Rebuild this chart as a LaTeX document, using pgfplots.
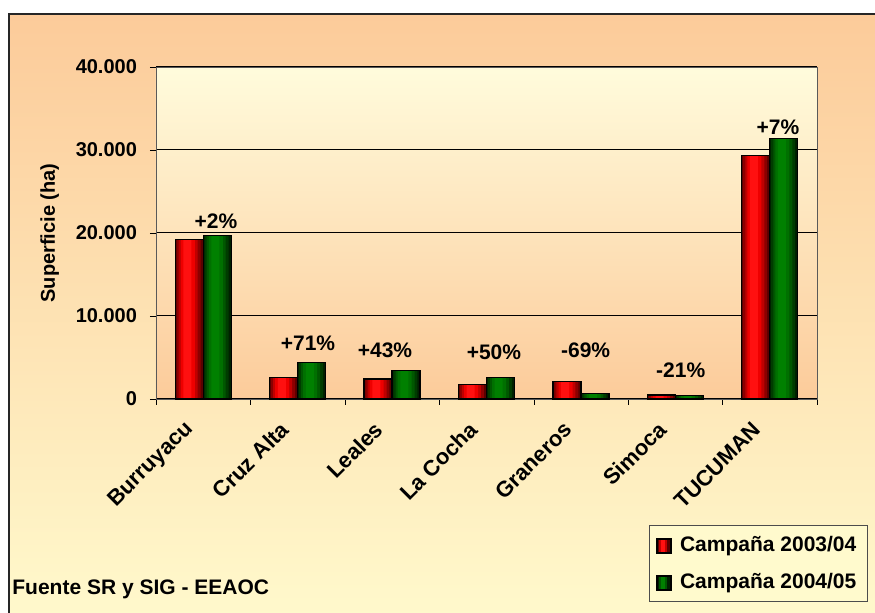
\documentclass[border=0pt]{standalone}
\usepackage{pgfplots}
\usepackage{pgfplotstable}
\pgfplotsset{compat=1.18}
\usepackage{fontspec}
\setmainfont{Liberation Sans}
\definecolor{peach}{HTML}{FCCB9A}
\definecolor{lyel}{HTML}{FFFACD}
\definecolor{r1}{HTML}{5A0000}
\definecolor{r2}{HTML}{8C0000}
\definecolor{r3}{HTML}{C00000}
\definecolor{r4}{HTML}{EE0000}
\definecolor{r5}{HTML}{FF1010}
\definecolor{g1}{HTML}{002000}
\definecolor{g2}{HTML}{003C00}
\definecolor{g3}{HTML}{005800}
\definecolor{g4}{HTML}{007000}
\definecolor{g5}{HTML}{008000}
\pgfplotstableread{
x r g
0 19200 19650
1 2550 4400
2 2400 3450
3 1780 2620
4 2100 680
5 480 420
6 29300 31350
}\data
\begin{document}
\begin{tikzpicture}
\begin{scope}[x=0.5pt,y=-0.5pt]
\useasboundingbox (0,0) rectangle (875,613);
\begin{scope}
\clip (0,0) rectangle (875,613);
\shade[top color=peach, bottom color=lyel, draw=black!85, line width=0.6pt] (9,14) rectangle (890,630);
\end{scope}
\end{scope}
\begin{axis}[
  at={(78pt,-199.5pt)}, anchor=south west,
  scale only axis, width=330.5pt, height=166pt,
  xmin=-0.5, xmax=6.5, ymin=0, ymax=40000,
  axis background/.style={top color=lyel!70!white, bottom color=peach},
  axis line style={gray!70!black},
  xtick={0,...,6},
  xticklabels={Burruyacu,Cruz Alta,Leales,La Cocha,Graneros,Simoca,TUCUMAN},
  major x tick style={draw=none},
  minor xtick={-0.5,0.5,...,6.5},
  minor tick length=3pt,
  minor x tick style={black},
  xtick pos=bottom, ytick pos=left,
  tick align=outside,
  major tick length=3pt,
  ytick={0,10000,20000,30000,40000},
  ymajorgrids, major grid style={black, line width=0.5pt},
  y tick style={black},
  scaled y ticks=false,
  /pgf/number format/.cd, 1000 sep={.}, assume math mode=true,
  /pgfplots/.cd,
  tick label style={font=\bfseries\fontsize{10}{12}\selectfont},
  yticklabel style={xshift=-3pt},
  xticklabel style={font=\bfseries\fontsize{11}{13}\selectfont, xshift=-4pt, yshift=-8pt, rotate=45, anchor=east},
  ylabel={Superficie (ha)},
  ylabel style={font=\bfseries\fontsize{10}{12}\selectfont, yshift=1.5pt},
  clip=false,
]
% red series (2003/04): layered fills for the cylinder look
\addplot[ybar, bar width=14pt, bar shift=-7pt, fill=r1, draw=none] table[x=x,y=r]{\data};
\addplot[ybar, bar width=12pt, bar shift=-7.3pt, fill=r2, draw=none] table[x=x,y=r]{\data};
\addplot[ybar, bar width=9.5pt, bar shift=-7.5pt, fill=r3, draw=none] table[x=x,y=r]{\data};
\addplot[ybar, bar width=7pt, bar shift=-7.7pt, fill=r4, draw=none] table[x=x,y=r]{\data};
\addplot[ybar, bar width=4pt, bar shift=-7.9pt, fill=r5, draw=none] table[x=x,y=r]{\data};
\addplot[ybar, bar width=14pt, bar shift=-7pt, fill=none, draw=black, line width=0.6pt] table[x=x,y=r]{\data};
% green series (2004/05)
\addplot[ybar, bar width=14pt, bar shift=7pt, fill=g1, draw=none] table[x=x,y=g]{\data};
\addplot[ybar, bar width=12pt, bar shift=6.7pt, fill=g2, draw=none] table[x=x,y=g]{\data};
\addplot[ybar, bar width=9.5pt, bar shift=6.5pt, fill=g3, draw=none] table[x=x,y=g]{\data};
\addplot[ybar, bar width=7pt, bar shift=6.3pt, fill=g4, draw=none] table[x=x,y=g]{\data};
\addplot[ybar, bar width=4pt, bar shift=6.1pt, fill=g5, draw=none] table[x=x,y=g]{\data};
\addplot[ybar, bar width=14pt, bar shift=7pt, fill=none, draw=black, line width=0.6pt] table[x=x,y=g]{\data};
\begin{scope}[every node/.style={font=\bfseries\fontsize{10.5}{12}\selectfont}]
\node at (axis cs:0.135,21446) {+2\%};
\node at (axis cs:1.110,6747) {+71\%};
\node at (axis cs:1.925,5904) {+43\%};
\node at (axis cs:3.079,5578) {+50\%};
\node at (axis cs:4.050,5904) {-69\%};
\node at (axis cs:5.057,3410) {-21\%};
\node at (axis cs:6.087,32687) {+7\%};
\end{scope}
\end{axis}
\begin{scope}[x=0.5pt,y=-0.5pt]
\shade[top color=lyel, middle color=peach, bottom color=lyel, draw=black!70, line width=0.5pt] (649,526) rectangle (867,602);
\begin{scope}[every node/.style={font=\bfseries\fontsize{10.5}{12}\selectfont, anchor=west}]
\fill[r1] (657,539) rectangle (671,553);
\fill[r3] (659,539) rectangle (667,553);
\fill[r5] (661,539) rectangle (665,553);
\draw[black, line width=0.6pt] (657,539) rectangle (671,553);
\node at (673,546) {Campaña 2003/04};
\fill[g1] (657,576) rectangle (671,590);
\fill[g3] (659,576) rectangle (667,590);
\fill[g5] (661,576) rectangle (665,590);
\draw[black, line width=0.6pt] (657,576) rectangle (671,590);
\node at (673,583) {Campaña 2004/05};
\end{scope}
\node[font=\bfseries\fontsize{10.5}{12}\selectfont, anchor=west, inner sep=0pt] at (12,589) {Fuente SR y SIG - EEAOC};
\end{scope}
\end{tikzpicture}
\end{document}
